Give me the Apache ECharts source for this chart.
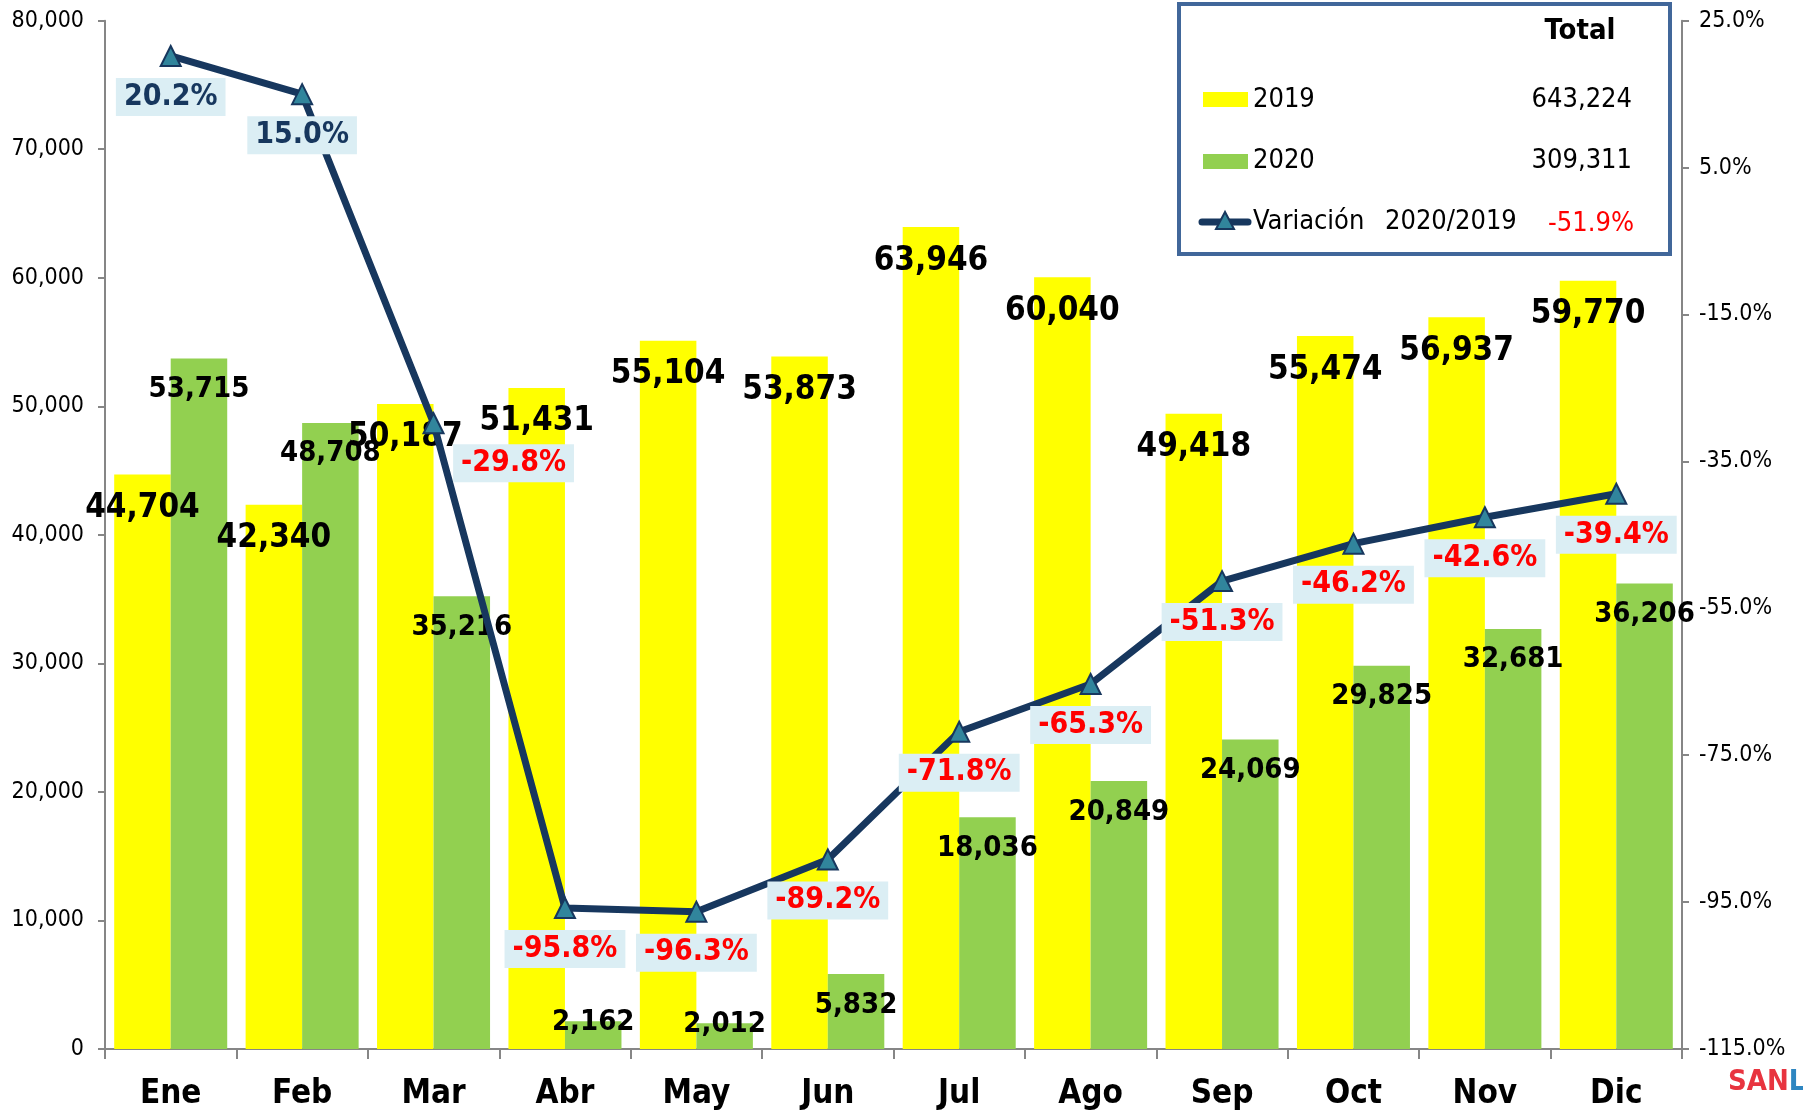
<!DOCTYPE html>
<html>
<head>
<meta charset="utf-8">
<script src="https://cdn.jsdelivr.net/npm/echarts@6/dist/echarts.min.js"></script>
<style>
html, body { margin: 0; padding: 0; background: #fff; }
#main { width: 1803px; height: 1111px; }
</style>
</head>
<body>
<div id="main"></div>
<script>
var months = ['Ene', 'Feb', 'Mar', 'Abr', 'May', 'Jun', 'Jul', 'Ago', 'Sep', 'Oct', 'Nov', 'Dic'];
var v2019 = [44704, 42340, 50187, 51431, 55104, 53873, 63946, 60040, 49418, 55474, 56937, 59770];
var v2020 = [53715, 48708, 35216, 2162, 2012, 5832, 18036, 20849, 24069, 29825, 32681, 36206];
var variacion = [20.2, 15.0, -29.8, -95.8, -96.3, -89.2, -71.8, -65.3, -51.3, -46.2, -42.6, -39.4];
var rightTicks = [-115, -95, -75, -55, -35, -15, 5, 25];

var FONT = 'Tahoma, "DejaVu Sans Condensed", "DejaVu Sans", sans-serif';
var NAVY = '#17375E';

var chartDom = document.getElementById('main');
var myChart = echarts.init(chartDom);

function fmt(n) { return n.toLocaleString('en-US'); }

var total2019 = v2019.reduce(function (a, b) { return a + b; }, 0);
var total2020 = v2020.reduce(function (a, b) { return a + b; }, 0);
var totalVar = (total2020 / total2019 - 1) * 100;

// labels sit a bit inside the bar top; Abr/May 2020 bars are too short for that
var data2019 = v2019.map(function (v) {
    return { value: v, label: { position: ['50%', 34] } };
});
var data2020 = v2020.map(function (v, i) {
    var dy = (i === 3 || i === 4) ? 1 : 31;
    return { value: v, label: { position: ['50%', dy] } };
});
var dataVar = variacion.map(function (v, i) {
    return {
        value: v,
        label: {
            color: v >= 0 ? NAVY : '#FF0000',
            offset: i === 2 ? [80, 40] : [0, 41]
        }
    };
});

var option = {
    backgroundColor: '#fff',
    animation: false,
    grid: { left: 105, right: 121, top: 20.7, bottom: 62 },
    legend: { show: false },
    xAxis: {
        type: 'category',
        data: months,
        axisLine: { lineStyle: { color: '#868686', width: 2 } },
        axisTick: { show: true, alignWithLabel: false, length: 10, lineStyle: { color: '#868686', width: 2 } },
        axisLabel: { color: '#000', fontFamily: FONT, fontWeight: 'bold', fontSize: 33, margin: 29 }
    },
    yAxis: [{
        type: 'value',
        min: 0,
        max: 80000,
        interval: 10000,
        splitLine: { show: false },
        axisLine: { show: true, lineStyle: { color: '#868686', width: 2 } },
        axisTick: { show: true, length: 7, lineStyle: { color: '#868686', width: 2 } },
        axisLabel: {
            color: '#000', fontFamily: FONT, fontSize: 23, margin: 21,
            formatter: function (v) { return fmt(v); }
        }
    }, {
        type: 'value',
        min: -115,
        max: 25,
        position: 'right',
        splitLine: { show: false },
        axisLine: { show: true, lineStyle: { color: '#868686', width: 2 } },
        axisTick: { show: true, length: 7, customValues: rightTicks, lineStyle: { color: '#868686', width: 2 } },
        axisLabel: {
            color: '#000', fontFamily: FONT, fontSize: 23, margin: 17,
            customValues: rightTicks,
            formatter: function (v) { return v.toFixed(1) + '%'; }
        }
    }],
    series: [{
        name: '2019',
        type: 'bar',
        data: data2019,
        barGap: '0%',
        barCategoryGap: '14%',
        itemStyle: { color: '#FFFF00' },
        label: {
            show: true,
            align: 'center',
            verticalAlign: 'middle',
            color: '#000',
            fontFamily: FONT,
            fontWeight: 'bold',
            fontSize: 33,
            formatter: function (p) { return fmt(p.value); }
        }
    }, {
        name: '2020',
        type: 'bar',
        data: data2020,
        itemStyle: { color: '#92D050' },
        label: {
            show: true,
            align: 'center',
            verticalAlign: 'middle',
            color: '#000',
            fontFamily: FONT,
            fontWeight: 'bold',
            fontSize: 29,
            formatter: function (p) { return fmt(p.value); }
        }
    }, {
        name: 'Variación',
        type: 'line',
        yAxisIndex: 1,
        z: 5,
        data: dataVar,
        symbol: 'triangle',
        symbolSize: 20,
        lineStyle: { color: NAVY, width: 7 },
        itemStyle: { color: '#31859C', borderColor: NAVY, borderWidth: 2 },
        label: {
            show: true,
            position: 'inside',
            fontFamily: FONT,
            fontWeight: 'bold',
            fontSize: 30,
            backgroundColor: '#DBEEF4',
            padding: [5, 8, 3, 8],
            formatter: function (p) { return p.value.toFixed(1) + '%'; }
        }
    }],
    graphic: {
        elements: [{
            type: 'rect',
            shape: { x: 1179, y: 4, width: 491, height: 250 },
            style: { fill: '#fff', stroke: '#41679A', lineWidth: 4 },
            z: 20
        }, {
            type: 'text', x: 1580, y: 31, z: 21,
            style: { text: 'Total', font: 'bold 29px ' + FONT, fill: '#000', align: 'center', verticalAlign: 'middle' }
        }, {
            type: 'rect', z: 21,
            shape: { x: 1203, y: 92, width: 45, height: 15 },
            style: { fill: '#FFFF00' }
        }, {
            type: 'text', x: 1253, y: 100, z: 21,
            style: { text: '2019', font: '27px ' + FONT, fill: '#000', verticalAlign: 'middle' }
        }, {
            type: 'text', x: 1632, y: 100, z: 21,
            style: { text: fmt(total2019), font: '27px ' + FONT, fill: '#000', align: 'right', verticalAlign: 'middle' }
        }, {
            type: 'rect', z: 21,
            shape: { x: 1203, y: 154, width: 45, height: 15 },
            style: { fill: '#92D050' }
        }, {
            type: 'text', x: 1253, y: 161, z: 21,
            style: { text: '2020', font: '27px ' + FONT, fill: '#000', verticalAlign: 'middle' }
        }, {
            type: 'text', x: 1632, y: 161, z: 21,
            style: { text: fmt(total2020), font: '27px ' + FONT, fill: '#000', align: 'right', verticalAlign: 'middle' }
        }, {
            type: 'line', z: 21,
            shape: { x1: 1202, y1: 222, x2: 1248, y2: 222 },
            style: { stroke: NAVY, lineWidth: 7, lineCap: 'round' }
        }, {
            type: 'polygon', z: 22,
            shape: { points: [[1225, 212], [1216, 229], [1234, 229]] },
            style: { fill: '#31859C', stroke: NAVY, lineWidth: 2 }
        }, {
            type: 'text', x: 1253, y: 222, z: 21,
            style: { text: 'Variación', font: '27px ' + FONT, fill: '#000', verticalAlign: 'middle' }
        }, {
            type: 'text', x: 1385, y: 222, z: 21,
            style: { text: '2020/2019', font: '27px ' + FONT, fill: '#000', verticalAlign: 'middle' }
        }, {
            type: 'text', x: 1634, y: 224, z: 21,
            style: { text: totalVar.toFixed(1) + '%', font: '27px ' + FONT, fill: '#FF0000', align: 'right', verticalAlign: 'middle' }
        }, {
            type: 'text', x: 1728, y: 1068, z: 21,
            style: {
                text: '{r|SAN}{b|L}',
                rich: {
                    r: { font: 'bold 29px "DejaVu Sans Condensed", "DejaVu Sans", sans-serif', fill: '#E8343F' },
                    b: { font: 'bold 29px "DejaVu Sans Condensed", "DejaVu Sans", sans-serif', fill: '#2E86C1' }
                }
            }
        }]
    }
};

option && myChart.setOption(option);
</script>
</body>
</html>
